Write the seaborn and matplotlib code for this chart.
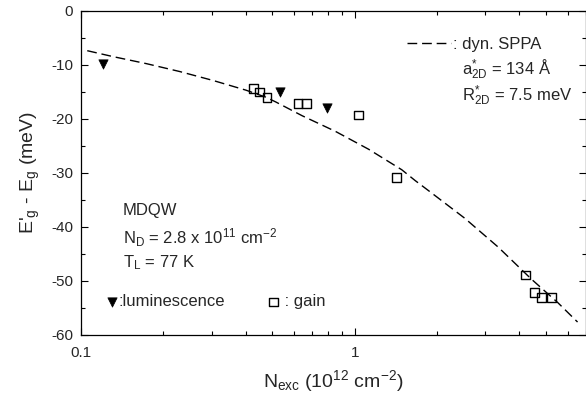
import numpy as np
import pandas as pd
import matplotlib
matplotlib.use("Agg")
import matplotlib.pyplot as plt
from matplotlib.ticker import LogLocator, FixedLocator, FixedFormatter, MultipleLocator, NullFormatter
import seaborn as sns

# theory curve (dyn. SPPA)
sppa_n = [0.1054, 0.131, 0.1734, 0.229, 0.303, 0.400, 0.473, 0.515, 0.643, 0.851,
          1.124, 1.486, 1.663, 1.91, 2.527, 3.34, 4.41, 5.52, 6.52]
sppa_shift = [-7.35, -8.45, -9.75, -11.2, -12.85, -14.65, -15.95, -16.85, -19.4, -22.3,
              -25.6, -29.4, -31.4, -33.7, -38.4, -43.7, -49.6, -54.0, -57.6]

# luminescence points
lum_n = [0.12, 0.534, 0.791]
lum_shift = [-9.8, -15.0, -17.9]

# gain points
gain_n = [0.428, 0.448, 0.478, 0.621, 0.667, 1.034, 1.425, 4.21, 4.54, 4.80, 5.25]
gain_shift = [-14.4, -15.0, -16.05, -17.2, -17.2, -19.26, -30.8, -48.9, -52.2, -53.1, -53.1]

sns.set_style("ticks")
plt.rcParams['font.family'] = ['Liberation Sans', 'DejaVu Sans']
plt.rcParams['mathtext.fontset'] = 'custom'
plt.rcParams['mathtext.rm'] = 'Liberation Sans'
plt.rcParams['mathtext.it'] = 'Liberation Sans'
plt.rcParams['axes.unicode_minus'] = False

fig = plt.figure(figsize=(5.86, 3.96), dpi=100)
ax = fig.add_axes([81 / 586, 1 - 335 / 396, 505 / 586, 324 / 396])

sppa = pd.DataFrame({'n': sppa_n, 'shift': sppa_shift})
sns.lineplot(data=sppa, x='n', y='shift', ax=ax, color='black', lw=1.0,
             linestyle=(0, (7, 3.5)), label=': dyn. SPPA', sort=False)
sns.scatterplot(x=lum_n, y=lum_shift, ax=ax, marker='v', s=45, color='black',
                edgecolor='black', linewidth=0.5, label=':luminescence', zorder=3)
sns.scatterplot(x=gain_n, y=gain_shift, ax=ax, marker='s', s=40, facecolors='none',
                edgecolors='black', linewidth=1.0, label=' : gain', zorder=3)

ax.set_xscale('log')
ax.set_xlim(0.1, 7.0)
ax.set_ylim(-60, 0)

ax.xaxis.set_major_locator(FixedLocator([0.1, 1]))
ax.xaxis.set_major_formatter(FixedFormatter(['0.1', '1']))
ax.xaxis.set_minor_locator(LogLocator(base=10, subs=np.arange(2, 10)))
ax.xaxis.set_minor_formatter(NullFormatter())
ax.yaxis.set_major_locator(MultipleLocator(10))
ax.yaxis.set_minor_locator(MultipleLocator(5))

ax.tick_params(which='both', direction='in', top=True, right=True, labelsize=11,
               width=0.8, color='black')
ax.tick_params(which='major', length=5)
ax.tick_params(which='minor', length=3)
ax.tick_params(axis='x', pad=8)
ax.tick_params(axis='y', pad=5.5)
for sp in ax.spines.values():
    sp.set_linewidth(0.9)
    sp.set_color('black')

ax.set_xlabel(r'N$_{\mathrm{exc}}$ (10$^{\mathrm{12}}$ cm$^{\mathrm{-2}}$)', fontsize=14, labelpad=6)
ax.set_ylabel(r"E$'_{\mathrm{g}}$ - E$_{\mathrm{g}}$ (meV)", fontsize=14, labelpad=7)

handles, labels = ax.get_legend_handles_labels()
leg1 = ax.legend(handles[:1], labels[:1], loc='center left', bbox_to_anchor=(0.645, 0.898),
                 frameon=False, fontsize=12, handlelength=2.65, handletextpad=0.1,
                 borderpad=0, borderaxespad=0)
ax.add_artist(leg1)
ax.legend(handles[1:], labels[1:], loc='center left', bbox_to_anchor=(0.048, 0.102),
          frameon=False, fontsize=12, ncol=2, handlelength=0.8, handletextpad=0.0,
          columnspacing=2.5, borderpad=0, borderaxespad=0)

tk = dict(transform=ax.transAxes, fontsize=12, va='center', ha='left')
ax.text(0.754, 0.818, r'a$^{*}_{\mathrm{2D}}$ = 134 Å', **tk)
ax.text(0.754, 0.738, r'R$^{*}_{\mathrm{2D}}$ = 7.5 meV', **tk)
ax.text(0.083, 0.383, 'MDQW', **tk)
ax.text(0.083, 0.299, r'N$_{\mathrm{D}}$ = 2.8 x 10$^{\mathrm{11}}$ cm$^{\mathrm{-2}}$', **tk)
ax.text(0.083, 0.222, r'T$_{\mathrm{L}}$ = 77 K', **tk)

fig.savefig('out.png', dpi=100)
